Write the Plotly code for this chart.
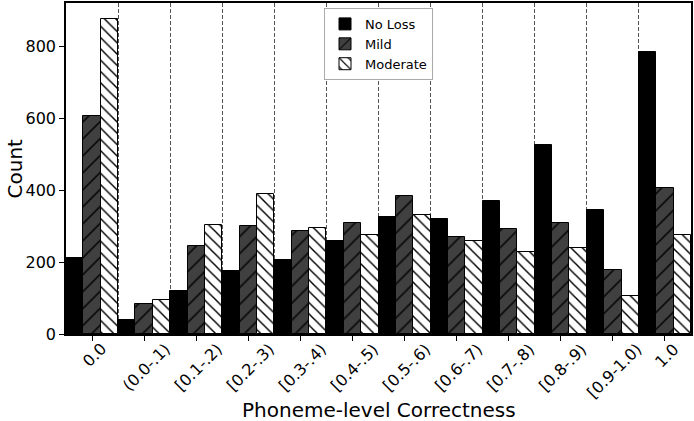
import plotly.graph_objects as go

categories = ["0.0", "(0.0-.1)", "[0.1-.2)", "[0.2-.3)", "[0.3-.4)", "[0.4-.5)",
              "[0.5-.6)", "[0.6-.7)", "[0.7-.8)", "[0.8-.9)", "[0.9-1.0)", "1.0"]
no_loss = [211, 38, 119, 176, 206, 259, 326, 321, 370, 526, 346, 784]
mild = [607, 83, 245, 300, 287, 308, 384, 270, 293, 308, 178, 407]
moderate = [877, 96, 303, 390, 296, 275, 331, 258, 229, 239, 105, 275]
y_ticks = [0, 200, 400, 600, 800]

idx = list(range(len(categories)))

fig = go.Figure()
fig.add_trace(go.Bar(
    x=idx, y=no_loss, name="No Loss",
    marker=dict(color="black", line=dict(color="black", width=1)),
))
fig.add_trace(go.Bar(
    x=idx, y=mild, name="Mild",
    marker=dict(color="#404040", line=dict(color="black", width=1),
                pattern=dict(shape="/", bgcolor="#404040", fgcolor="black",
                             size=12, solidity=0.12, fillmode="replace")),
))
fig.add_trace(go.Bar(
    x=idx, y=moderate, name="Moderate",
    marker=dict(color="white", line=dict(color="black", width=1),
                pattern=dict(shape="\\", bgcolor="white", fgcolor="black",
                             size=8, solidity=0.18, fillmode="replace")),
))

font_family = "DejaVu Sans"

annotations = []
for i, lab in enumerate(categories):
    annotations.append(dict(
        x=i, y=0, xref="x", yref="paper", text=lab, showarrow=False,
        textangle=-45, xanchor="center", yanchor="top", yshift=-3, xshift=2,
        font=dict(family=font_family, size=16, color="black"),
    ))
annotations.append(dict(
    x=0.5, y=0, xref="paper", yref="paper", text="Phoneme-level Correctness",
    showarrow=False, xanchor="center", yanchor="middle", yshift=-76,
    font=dict(family=font_family, size=20, color="black"),
))
annotations.append(dict(
    x=0, y=0.5, xref="paper", yref="paper", text="Count",
    showarrow=False, xanchor="center", yanchor="middle", xshift=-52, textangle=-90,
    font=dict(family=font_family, size=20, color="black"),
))

fig.update_layout(
    width=694, height=421,
    margin=dict(l=66, r=2, t=1, b=87),
    barmode="group", bargap=0, bargroupgap=0,
    plot_bgcolor="white", paper_bgcolor="white",
    font=dict(family=font_family, color="black"),
    showlegend=True,
    legend=dict(
        x=0.5, y=0.985, xanchor="center", yanchor="top",
        bgcolor="white", bordercolor="#aaaaaa", borderwidth=1,
        font=dict(family=font_family, size=13, color="black"),
        tracegroupgap=0, itemwidth=30,
    ),
    annotations=annotations,
)

fig.update_xaxes(
    range=[-0.5, len(categories) - 0.5],
    tickvals=idx, ticktext=[""] * len(idx), showticklabels=False,
    ticks="outside", ticklen=5, tickcolor="black", tickwidth=1,
    showline=True, mirror=True, linecolor="black", linewidth=1.5,
    showgrid=False, zeroline=False,
    minor=dict(tickvals=[i + 0.5 for i in idx[:-1]], showgrid=True,
               gridcolor="#555555", griddash="4px,2px", gridwidth=1, ticklen=0),
)
fig.update_yaxes(
    range=[0, 921], tickvals=y_ticks,
    ticks="outside", ticklen=5, tickcolor="black", tickwidth=1,
    tickfont=dict(family=font_family, size=16, color="black"),
    showline=True, mirror=True, linecolor="black", linewidth=1.5,
    showgrid=False, zeroline=False,
)

fig.write_html("out.html")
